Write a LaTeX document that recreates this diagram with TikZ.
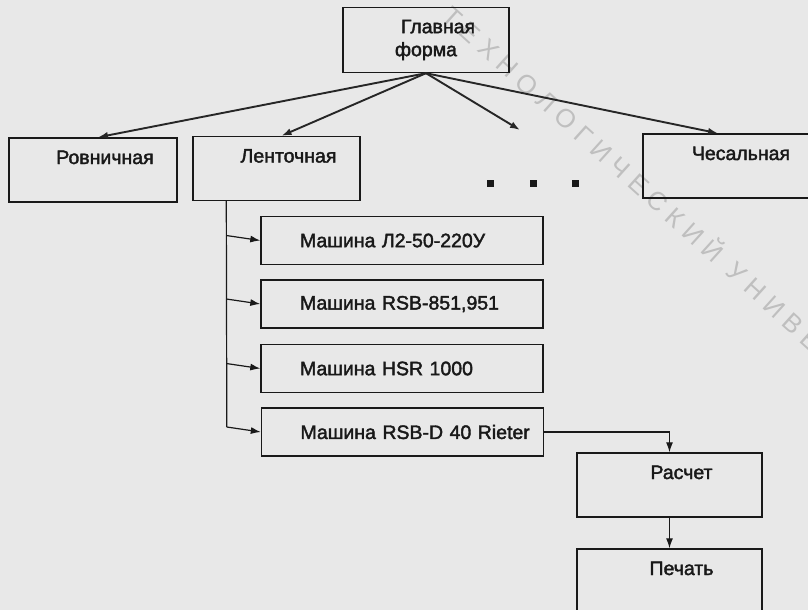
\documentclass[tikz,border=0pt]{standalone}
\usepackage{fontspec}
\setmainfont{Liberation Sans}
\newfontfamily\boxfont{Liberation Sans}[FakeBold=2]
\newfontfamily\stampfont{Liberation Sans}[LetterSpace=28]
\usetikzlibrary{calc,positioning,arrows.meta}

\begin{document}
\begin{tikzpicture}[x=1pt,y=-1pt,
    font=\boxfont\fontsize{19.5}{23}\selectfont,
    box/.style={draw=black!90, line width=1.4pt, text=black!90, inner sep=0pt},
    toptext/.style={box, text height=26pt, text depth=38pt,
        execute at begin node=\hspace*{24pt}},
    machine/.style={box, minimum width=282pt, minimum height=48pt,
        text width=282pt, align=left, execute at begin node=\hspace*{39pt}},
    mainarrow/.style={-{Latex[length=10pt,width=7pt]}, line width=1.9pt, draw=black!85},
    thinline/.style={line width=1.2pt, draw=black!90},
    thinarrow/.style={thinline, -{Latex[length=10pt,width=7pt]}}]
        \fill[black!9] (0,0) rectangle (808,610);
        \useasboundingbox (0,0) rectangle (808,610);
        % Stamp
        \node[text=black!25, font=\stampfont\fontsize{26}{26}\selectfont,
            rotate=-42, anchor=base west] (stamp) at (438,16) {ТЕХНОЛОГИЧЕСКИЙ УНИВЕРСИТЕТ};
        % Main form and sections
        \node[box, minimum width=166pt, minimum height=65pt, align=center] (main) at (426,40)
            {\hspace*{24pt}Главная\\форма};
        \node[toptext, minimum width=168pt] (rov) at (93,170) {Ровничная};
        \node[toptext, minimum width=167pt] (len) at (276.5,168.5) {Ленточная};
        \node[toptext, minimum width=172pt] (ces) at (729,166) {Чесальная};
        \coordinate (more) at (520,130);
        \foreach \x [count=\i] in {490,533,575}
            \node[fill=black!90, minimum size=7pt, inner sep=0pt] (dot\i) at (\x,183) {};
        % Machines
        \node[machine] (m1) at (402,240.5) {Машина Л2-50-220У};
        \node[machine] (m2) at (402,304) {Машина RSB-851,951};
        \node[machine] (m3) at (402,368.5) {Машина HSR 1000};
        \node[machine] (m4) at (402.5,432) {Машина RSB-D 40 Rieter};
        % Output
        \node[toptext, minimum width=185pt] (calc) at (669.5,485) {Расчет};
        \node[toptext, minimum width=185pt] (pech) at (669.5,581) {Печать};
        % Arrows
        \draw[mainarrow] (main.south) -- ([xshift=5pt]rov.north);
        \draw[mainarrow] (main.south) -- ([xshift=5pt]len.north);
        \draw[mainarrow] (main.south) -- (more);
        \draw[mainarrow] (main.south) -- ([xshift=-11pt]ces.north);
        \foreach \m in {m1,m2,m3,m4}
            \coordinate (\m-in) at ($(\m.west)+(-34,-5)$);
        \draw[thinline] (len.south -| m1-in) -- (m4-in);
        \foreach \m in {m1,m2,m3,m4}
            \draw[thinarrow] (\m-in) -- (\m.west);
        \draw[thinarrow] (m4.east) -| (calc.north);
        \draw[thinarrow] (calc.south) -- (pech.north);
\end{tikzpicture}
\end{document}
